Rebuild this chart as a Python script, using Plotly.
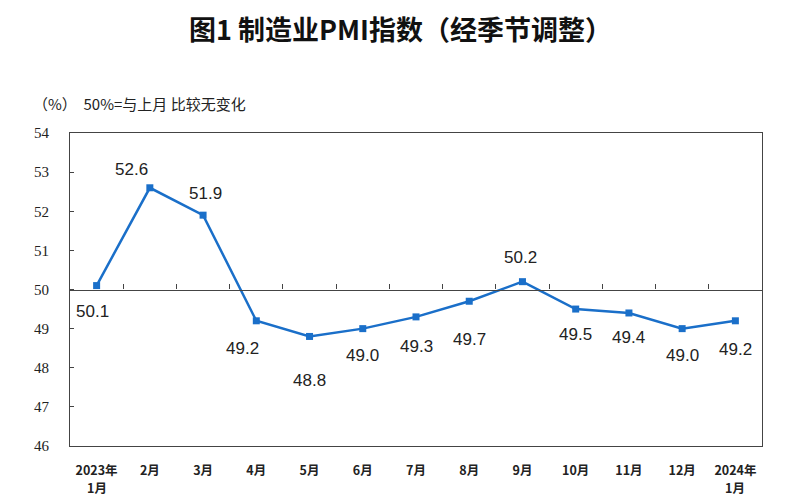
import plotly.graph_objects as go

months = ["2023年", "2月", "3月", "4月", "5月", "6月", "7月", "8月", "9月",
          "10月", "11月", "12月", "2024年"]
# second line under the year ticks
month_sub = {0: "1月", 12: "1月"}
pmi = [50.1, 52.6, 51.9, 49.2, 48.8, 49.0, 49.3, 49.7, 50.2, 49.5, 49.4, 49.0, 49.2]
# label offsets in pixels (dx, dy) relative to each point
label_dx = [-4, -18, 2, -14, 0, 0, 0, 0, -2, 0, 0, 0, 0]
label_dy = [-26, 18, 22, -28, -44, -27, -30, -38, 24, -25, -25, -27, -29]

x = list(range(len(months)))
blue = "#1a6fc9"
tick_font = dict(family="Noto Sans CJK SC", size=12.5, color="#222", weight="bold")

fig = go.Figure()
fig.add_trace(go.Scatter(
    x=x, y=pmi, mode="lines+markers",
    line=dict(color=blue, width=2.5),
    marker=dict(symbol="square", size=7, color=blue),
    hoverinfo="skip", showlegend=False))
# invisible trace to activate the 50-line axis
fig.add_trace(go.Scatter(x=[x[0], x[-1]], y=[50, 50], xaxis="x2", mode="lines",
                         line=dict(width=0), hoverinfo="skip", showlegend=False))

for xi, v, dx, dy in zip(x, pmi, label_dx, label_dy):
    fig.add_annotation(x=xi, y=v, text=f"{v:.1f}", showarrow=False,
                       xshift=dx, yshift=dy,
                       font=dict(family="Liberation Sans, Arial", size=17, color="#222"))

for xi, sub in month_sub.items():
    fig.add_annotation(x=xi, xref="x", yref="paper", y=-0.131, text=sub,
                       showarrow=False, xanchor="center", yanchor="middle",
                       font=tick_font)

rng = [-0.5, len(months) - 0.5]
fig.update_layout(
    width=793, height=504,
    margin=dict(l=62, r=39, t=125, b=66),
    plot_bgcolor="white", paper_bgcolor="white",
    xaxis=dict(range=rng, tickmode="array", tickvals=x, ticktext=months,
               showline=True, linecolor="#444", linewidth=1.2, mirror=True,
               showgrid=False, zeroline=False, ticks="",
               tickfont=tick_font, ticklabelstandoff=13),
    xaxis2=dict(range=rng, overlaying="x", anchor="free", position=0.5, side="top",
                tickmode="array", tickvals=[i + 0.5 for i in x[:-1]],
                ticks="outside", ticklen=5, tickcolor="#444", tickwidth=1,
                showticklabels=False, showline=True, linecolor="#444", linewidth=1.2,
                showgrid=False, zeroline=False),
    yaxis=dict(range=[46, 54], dtick=1, showline=True, linecolor="#444", linewidth=1.2,
               mirror=True, showgrid=False, zeroline=False,
               ticks="inside", ticklen=4, tickcolor="#444",
               tickfont=dict(family="Liberation Serif", size=15, color="#222"),
               ticklabelstandoff=17),
)

fig.add_annotation(xref="paper", yref="paper", x=0.477, y=1.335, xanchor="center",
                   yanchor="middle", showarrow=False,
                   text="图1 制造业PMI指数（经季节调整）",
                   font=dict(family="Noto Sans CJK SC", size=27, color="#111",
                             weight="bold"))

fig.add_annotation(xref="paper", yref="paper", x=-0.057, y=1.094, xanchor="left",
                   yanchor="middle", showarrow=False,
                   text="（%）  50%=与上月 比较无变化",
                   font=dict(family="Noto Sans CJK SC", size=15, color="#222"))

fig.write_html("out.html")
